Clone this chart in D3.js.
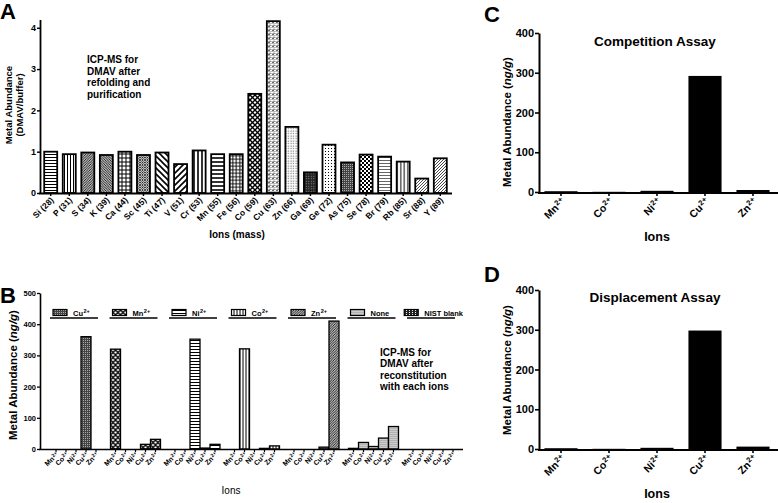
<!DOCTYPE html>
<html><head><meta charset="utf-8">
<script src="https://cdn.jsdelivr.net/npm/d3@7"></script>
<style>
body{margin:0;background:#fff}
svg{display:block;font-family:"Liberation Sans",Arial,Helvetica,sans-serif;font-weight:bold}
</style></head><body>
<svg id="c" width="778" height="503"></svg>
<script>
// ---------- DATA ----------
const ionsA = ["Si (28)","P (31)","S (34)","K (39)","Ca (44)","Sc (45)","Ti (47)","V (51)","Cr (53)","Mn (55)","Fe (56)","Co (59)","Cu (63)","Zn (66)","Ga (69)","Ge (72)","As (75)","Se (78)","Br (79)","Rb (85)","Sr (88)","Y (89)"];
const valuesA = [1.0,0.94,0.98,0.92,1.0,0.92,0.98,0.70,1.03,0.94,0.94,2.40,4.16,1.60,0.50,1.17,0.74,0.93,0.88,0.76,0.35,0.84];
const ticksA = [0,1,2,3,4];

const groupsB = ["Cu2+","Mn2+","Ni2+","Co2+","Zn2+","None","NIST blank"];
const ionsB = ["Mn2+","Co2+","Ni2+","Cu2+","Zn2+"];
const valuesB_Cu   = [0,0,0,360,0];
const valuesB_Mn   = [320,0,0,15,31];
const valuesB_Ni   = [0,0,352,3,15];
const valuesB_Co   = [0,321,0,2,10];
const valuesB_Zn   = [0,0,0,6,410];
const valuesB_None = [2,21,8,35,72];
const valuesB_NIST = [0,0,0,0,0];
const ticksB = [0,100,200,300,400,500];

const ionsCD = ["Mn2+","Co2+","Ni2+","Cu2+","Zn2+"];
const valuesC = [2,0.5,3,292,5];
const valuesD = [2,0.5,3,298,6];
const ticksCD = [0,100,200,300,400];

// ---------- STYLE ----------
const patA = ["hl3","vl3","slF","bsF","grid4","xF","bs5","sl5","vl4","hl4","grid3","diam","brick","ltdots","dkdots","spdots","dkgrey","checker","hlgrey","vl3b","slgrey","slY"];
const patB = ["dkgrey","diam","hl3","vl3","slF","fgrey","nist"];

const svg = d3.select("#c");
const defs = svg.append("defs");

function pat(id, w, h, bg, draw){
  const p = defs.append("pattern").attr("id",id).attr("patternUnits","userSpaceOnUse").attr("width",w).attr("height",h);
  p.append("rect").attr("width",w).attr("height",h).attr("fill",bg);
  draw(p);
}
function path(p,d,sw,col){ p.append("path").attr("d",d).attr("stroke",col||"#000").attr("stroke-width",sw).attr("fill","none"); }
const slash = s=>`M0,${s}L${s},0M-1,1L1,-1M${s-1},${s+1}L${s+1},${s-1}`;
const bslash = s=>`M0,0L${s},${s}M-1,${s-1}L1,${s+1}M${s-1},-1L${s+1},1`;

pat("hl3",3,3,"#fff",p=>path(p,"M0,1.5H3",1));
pat("vl3",3,3,"#fff",p=>path(p,"M1.5,0V3",1));
pat("vl3b",3.5,3.5,"#fff",p=>path(p,"M1.75,0V3.5",1));
pat("hl4",4,4,"#fff",p=>path(p,"M0,2H4",1.6));
pat("vl4",4,4,"#fff",p=>path(p,"M2,0V4",1.6));
pat("hlgrey",3,3,"#fff",p=>path(p,"M0,1.5H3",1,"#666"));
pat("slF",2.5,2.5,"#fff",p=>path(p,slash(2.5),0.9));
pat("bsF",2.5,2.5,"#fff",p=>path(p,bslash(2.5),0.9));
pat("slgrey",3,3,"#fff",p=>path(p,slash(3),1,"#555"));
pat("slY",3,3,"#fff",p=>path(p,slash(3),0.9,"#333"));
pat("bs5",6,6,"#fff",p=>path(p,bslash(6),1.6));
pat("sl5",6,6,"#fff",p=>path(p,slash(6),1.6));
pat("grid4",4,4,"#fff",p=>path(p,"M0,2H4M2,0V4",1));
pat("grid3",3.5,3.5,"#fff",p=>path(p,"M0,1.75H3.5M1.75,0V3.5",1));
pat("xF",2.5,2.5,"#fff",p=>{path(p,slash(2.5),0.7);path(p,bslash(2.5),0.7);});
pat("diam",5,5,"#fff",p=>{path(p,slash(5),1.4);path(p,bslash(5),1.4);});
pat("brick",4,4,"#bbb",p=>{path(p,"M0,0.5H4",1,"#fff");path(p,"M0,2.5H2M2,0.5V2.5",0.8,"#555");path(p,"M2,2.5H4",1,"#fff");});
pat("ltdots",2.5,2.5,"#fff",p=>p.append("rect").attr("x",0.5).attr("y",0.5).attr("width",1.2).attr("height",1.2).attr("fill","#777"));
pat("dkdots",2.5,2.5,"#222",p=>p.append("rect").attr("x",0.8).attr("y",0.8).attr("width",1).attr("height",1).attr("fill","#999"));
pat("spdots",3,3,"#fff",p=>p.append("rect").attr("x",1).attr("y",1).attr("width",1).attr("height",1).attr("fill","#000"));
pat("dkgrey",2,2,"#444",p=>{p.append("rect").attr("width",1).attr("height",1).attr("fill","#aaa");});
pat("checker",4,4,"#fff",p=>{p.append("rect").attr("width",2).attr("height",2).attr("fill","#000");p.append("rect").attr("x",2).attr("y",2).attr("width",2).attr("height",2).attr("fill","#000");});
pat("fgrey",2,2,"#fff",p=>{p.append("rect").attr("width",1).attr("height",1).attr("fill","#666");p.append("rect").attr("x",1).attr("y",1).attr("width",1).attr("height",1).attr("fill","#999");});
pat("nist",3,2,"#222",p=>p.append("rect").attr("x",1).attr("y",0).attr("width",1).attr("height",1).attr("fill","#fff"));

function supText(t, label, supSize){
  const m = label.match(/^(.*?)(2\+)$/);
  t.text(null);
  if(m){
    t.append("tspan").text(m[1]);
    t.append("tspan").attr("dy","-0.45em").attr("dx","0.5").attr("font-size",supSize).text(m[2]);
  } else t.text(label);
}
function styleAxis(g, sw){
  g.select(".domain").attr("stroke","#000").attr("stroke-width",sw);
  g.selectAll(".tick line").attr("stroke","#000").attr("stroke-width",sw*0.8);
}

// ---------- PANEL A ----------
{
  const x = d3.scaleBand(ionsA,[40.5,450.5]).paddingInner(0.3).paddingOuter(0.2);
  const y = d3.scaleLinear([0,4.2],[193,19.5]);
  const g = svg.append("g");
  g.selectAll("rect.bar").data(valuesA).join("rect")
    .attr("x",(d,i)=>x(ionsA[i])).attr("width",x.bandwidth())
    .attr("y",d=>y(d)).attr("height",d=>y(0)-y(d))
    .attr("fill",(d,i)=>`url(#${patA[i]})`).attr("stroke","#000").attr("stroke-width",1.8);
  const ya = g.append("g").attr("transform","translate(40,0)")
    .call(d3.axisLeft(y).tickValues(ticksA).tickFormat(d3.format("d")).tickSize(3).tickSizeOuter(0).tickPadding(1));
  ya.selectAll("text").attr("font-size",9).attr("font-weight","bold").attr("font-family","inherit");
  styleAxis(ya,1.8);
  const xa = g.append("g").attr("transform","translate(0,193)")
    .call(d3.axisBottom(x).tickSize(3).tickSizeOuter(0));
  xa.select(".domain").attr("d","M39,0.5H452");
  styleAxis(xa,1.8);
  xa.selectAll(".tick text").attr("font-size",8.5).attr("font-weight","bold").attr("font-family","inherit")
    .attr("text-anchor","end").attr("transform","rotate(-45)").attr("x",-3).attr("y",5).attr("dy","0.35em");
  g.append("text").attr("x",237).attr("y",238).attr("text-anchor","middle").attr("font-size",10).text("Ions (mass)");
  const yl = g.append("text").attr("transform","translate(12,105) rotate(-90)").attr("text-anchor","middle").attr("font-size",9.5);
  yl.append("tspan").attr("x",0).attr("dy",0).text("Metal Abundance");
  yl.append("tspan").attr("x",0).attr("dy",11).text("(DMAV/buffer)");
  const an = g.append("text").attr("font-size",10);
  ["ICP-MS for","DMAV after","refolding and","purification"].forEach((s,i)=>an.append("tspan").attr("x",87).attr("y",63+i*11.7).text(s));
  g.append("text").attr("x",0).attr("y",19).attr("font-size",22).text("A");
}

// ---------- PANEL B ----------
{
  const valuesB = [valuesB_Cu,valuesB_Mn,valuesB_Ni,valuesB_Co,valuesB_Zn,valuesB_None,valuesB_NIST];
  const x0 = d3.scaleBand(groupsB,[46.25,462.75]).paddingInner(0.16).paddingOuter(0.08);
  const x1 = d3.scaleBand(ionsB,[0,x0.bandwidth()]).padding(0);
  const y = d3.scaleLinear([0,500],[449,293]);
  const g = svg.append("g");
  groupsB.forEach((grp,gi)=>{
    const gg = g.append("g").attr("transform",`translate(${x0(grp)},0)`);
    gg.selectAll("rect").data(valuesB[gi]).join("rect")
      .attr("x",(d,i)=>x1(ionsB[i])).attr("width",x1.bandwidth())
      .attr("y",d=>y(d)).attr("height",d=>Math.max(0,y(0)-y(d)))
      .attr("fill",`url(#${patB[gi]})`).attr("stroke","#000").attr("stroke-width",d=>d>0?1.3:0);
    const xa = gg.append("g").attr("transform","translate(0,449)").call(d3.axisBottom(x1).tickSize(3).tickSizeOuter(0));
    xa.select(".domain").remove();
    xa.selectAll(".tick line").attr("stroke","#000").attr("stroke-width",1.2);
    xa.selectAll(".tick text").attr("font-size",7).attr("font-weight","bold").attr("font-family","inherit")
      .attr("text-anchor","end").attr("transform","rotate(-45)").attr("x",-2).attr("y",4).attr("dy","0.35em")
      .each(function(d){supText(d3.select(this),d,5);});
    const bw = x0.bandwidth();
    gg.append("line").attr("x1",-1).attr("x2",bw-3).attr("y1",318).attr("y2",318).attr("stroke","#000").attr("stroke-width",1.5);
    const lt = gg.append("text").attr("font-size",7.5).attr("y",315.5);
    supText(lt,grp,5.5);
    const tw = lt.node().getComputedTextLength();
    const total = 14+6+tw;
    const sx = Math.min(2, bw+5-total);
    gg.append("rect").attr("x",sx).attr("y",309.5).attr("width",14).attr("height",6)
      .attr("fill",`url(#${patB[gi]})`).attr("stroke","#000").attr("stroke-width",1.2);
    lt.attr("x",sx+20);
  });
  const ya = g.append("g").attr("transform","translate(40,0)")
    .call(d3.axisLeft(y).tickValues(ticksB).tickSize(3).tickSizeOuter(0).tickPadding(1));
  ya.selectAll("text").attr("font-size",7.5).attr("font-weight","bold").attr("font-family","inherit");
  styleAxis(ya,1.6);
  g.append("line").attr("x1",39).attr("x2",463).attr("y1",449.5).attr("y2",449.5).attr("stroke","#000").attr("stroke-width",1.6);
  g.append("text").attr("x",231).attr("y",494).attr("text-anchor","middle").attr("font-size",10).attr("font-weight","normal").text("Ions");
  const yl = g.append("text").attr("transform","translate(17,375) rotate(-90)").attr("text-anchor","middle").attr("font-size",11.5);
  yl.append("tspan").text("Metal Abundance (");
  yl.append("tspan").attr("font-style","italic").text("ng/g");
  yl.append("tspan").text(")");
  const an = g.append("text").attr("font-size",10);
  ["ICP-MS for","DMAV after","reconstitution","with each ions"].forEach((s,i)=>an.append("tspan").attr("x",380).attr("y",356+i*11.4).text(s));
  g.append("text").attr("x",0).attr("y",303).attr("font-size",22).text("B");
}

// ---------- PANELS C & D ----------
function panelCD(values, y0, y1, title, titleY, letter, letterY, ylabelY){
  const x = d3.scaleBand(ionsCD,[537,777]).paddingInner(0.31).paddingOuter(0.155);
  const y = d3.scaleLinear([0,400],[y0,y1]);
  const g = svg.append("g");
  g.selectAll("rect").data(values).join("rect")
    .attr("x",(d,i)=>x(ionsCD[i])).attr("width",x.bandwidth())
    .attr("y",d=>y(d)).attr("height",d=>y(0)-y(d)).attr("fill","#000");
  const ya = g.append("g").attr("transform","translate(539,0)")
    .call(d3.axisLeft(y).tickValues(ticksCD).tickSize(4).tickSizeOuter(0).tickPadding(1));
  ya.selectAll("text").attr("font-size",11).attr("font-weight","bold").attr("font-family","inherit");
  styleAxis(ya,2);
  const xa = g.append("g").attr("transform",`translate(0,${y0})`).call(d3.axisBottom(x).tickSize(4).tickSizeOuter(0));
  xa.select(".domain").attr("d","M538,1H778");
  styleAxis(xa,2);
  xa.selectAll(".tick text").attr("font-size",10.5).attr("font-weight","bold").attr("font-family","inherit")
    .attr("text-anchor","end").attr("transform","rotate(-45)").attr("x",-4).attr("y",7).attr("dy","0.35em")
    .each(function(d){supText(d3.select(this),d,7.5);});
  g.append("text").attr("x",657).attr("y",Math.min(y0+49,500)).attr("text-anchor","middle").attr("font-size",12.5).text("Ions");
  g.append("text").attr("x",655).attr("y",titleY).attr("text-anchor","middle").attr("font-size",13.5).text(title);
  const yl = g.append("text").attr("transform",`translate(511,${ylabelY}) rotate(-90)`).attr("text-anchor","middle").attr("font-size",11.5);
  yl.append("tspan").text("Metal Abundance (");
  yl.append("tspan").attr("font-style","italic").text("ng/g");
  yl.append("tspan").text(")");
  g.append("text").attr("x",484).attr("y",letterY).attr("font-size",22).text(letter);
}
panelCD(valuesC,192,33,"Competition Assay",46,"C",22,122);
panelCD(valuesD,449,290,"Displacement Assay",302,"D",282,370);
</script>
</body></html>
